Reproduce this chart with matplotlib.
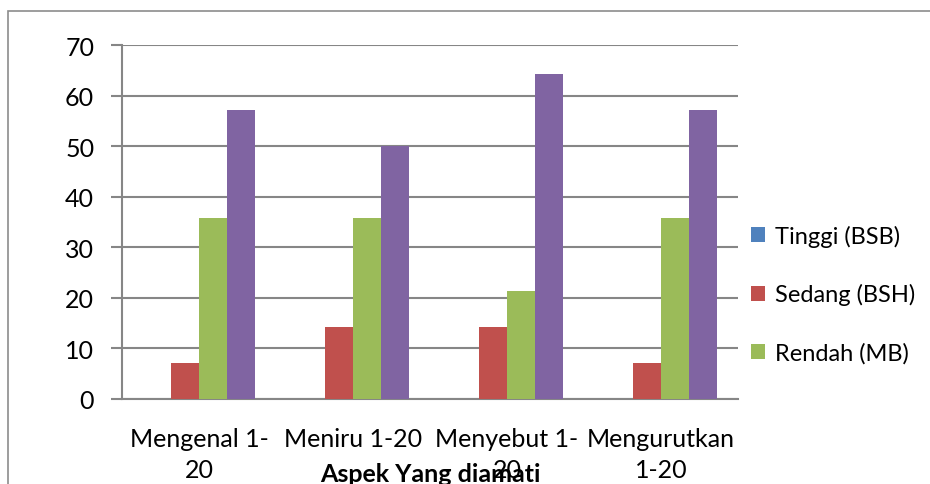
import matplotlib
matplotlib.use("Agg")
import matplotlib.pyplot as plt
from matplotlib.patches import Rectangle, Patch
import numpy as np

categories = ["Mengenal 1-\n20", "Meniru 1-20", "Menyebut 1-\n20", "Mengurutkan\n1-20"]
series_names = ["Tinggi (BSB)", "Sedang (BSH)", "Rendah (MB)", "Sangat Rendah (BB)"]
tinggi = [0, 0, 0, 0]
sedang = [7.14, 14.29, 14.29, 7.14]
rendah = [35.71, 35.71, 21.43, 35.71]
sangat_rendah = [57.14, 50.0, 64.29, 57.14]
yticks = [0, 10, 20, 30, 40, 50, 60, 70]
colors = ["#4F81BD", "#C0504D", "#9BBB59", "#8064A2"]

plt.rcParams['font.family'] = ['Lato', 'DejaVu Sans']

W, H = 930, 485
fig = plt.figure(figsize=(W / 100, H / 100), dpi=100)
# chart frame (extends past the right and bottom edges)
fig.patches.append(Rectangle((8 / W, -0.1), 1.2, 1 - 12 / H + 0.1, transform=fig.transFigure,
                             fill=False, edgecolor="#8c8c8c", linewidth=1.2))

ax = fig.add_axes([122 / W, 1 - 400 / H, (738 - 122) / W, (400 - 46) / H])
values = [tinggi, sedang, rendah, sangat_rendah]
x = np.arange(len(categories))
bw = 1 / 5.5
for i, (vals, c) in enumerate(zip(values, colors)):
    ax.bar(x + (i - 1.5) * bw, vals, width=bw, color=c, zorder=3, linewidth=0)

ax.set_xlim(-0.5, len(categories) - 0.5)
ax.set_ylim(0, 70)
ax.set_yticks(yticks)
ax.yaxis.grid(True, color="#868686", linewidth=1.5, zorder=0)
ax.set_axisbelow(True)
for s in ["top", "right"]:
    ax.spines[s].set_visible(False)
ax.spines["left"].set_color("#868686")
ax.spines["left"].set_linewidth(1.5)
ax.spines["bottom"].set_color("#868686")
ax.spines["bottom"].set_linewidth(1.5)
ax.tick_params(axis="y", length=8, width=1.5, color="#868686", labelsize=18, pad=12)
ax.tick_params(axis="x", length=0, labelsize=18, pad=20)
ax.set_xticks(x)
ax.set_xticklabels(categories, linespacing=1.45)
ax.set_xlabel("Aspek Yang diamati", fontsize=18, fontweight="bold", labelpad=-14)

handles = [Patch(facecolor=colors[i], edgecolor="none") for i in range(3)]
fig.legend(handles, series_names[:3], loc="center left",
           bbox_to_anchor=(730 / W, 1 - 295 / H), frameon=False, fontsize=17,
           handlelength=0.6, handleheight=0.6, handletextpad=0.4, labelspacing=1.55)

fig.savefig("out.png", dpi=100)
